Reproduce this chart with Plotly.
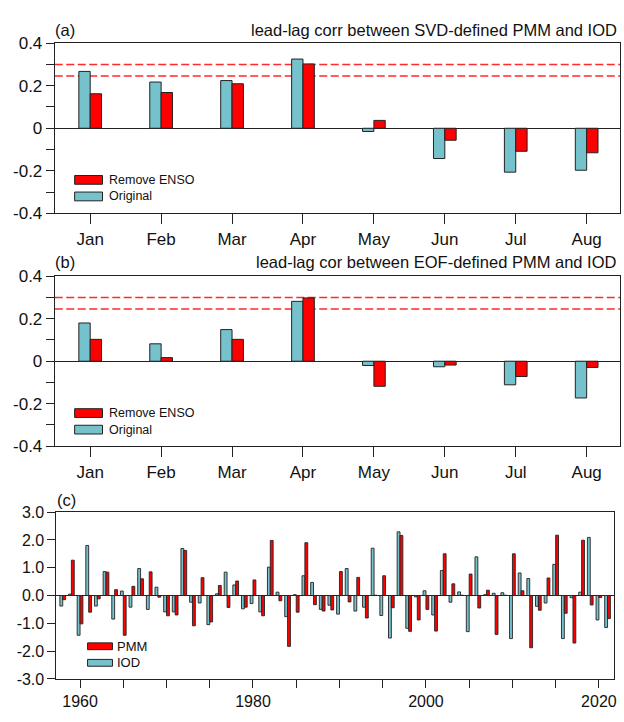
import plotly.graph_objects as go

# ---------------- data ----------------
months = ["Jan", "Feb", "Mar", "Apr", "May", "Jun", "Jul", "Aug"]

# panel (a): SVD-defined PMM vs IOD
svd_original = [0.267, 0.217, 0.224, 0.325, -0.015, -0.142, -0.206, -0.197]
svd_remove_enso = [0.162, 0.168, 0.209, 0.302, 0.037, -0.056, -0.108, -0.115]

# panel (b): EOF-defined PMM vs IOD
eof_original = [0.180, 0.082, 0.149, 0.282, -0.020, -0.026, -0.111, -0.173]
eof_remove_enso = [0.103, 0.017, 0.103, 0.298, -0.118, -0.018, -0.072, -0.029]

# significance levels
sig_levels = [0.3, 0.246]

# panel (c): time series
years = list(range(1958, 2022))
pmm = [-0.15, 1.27, -1.02, -0.60, -0.12, 0.84, 0.21, -1.43, 0.33, 0.60,
       0.85, -0.06, -0.73, -0.70, 1.62, -1.09, 0.64, -0.95, 0.36, -0.43,
       0.52, -0.42, 0.56, -0.73, 1.98, -0.19, -1.83, -0.60, 1.90, -0.33,
       -0.56, -0.52, 0.86, -0.23, 0.65, -0.81, 0.01, 0.71, -0.44, 2.16,
       -1.29, -0.88, -0.50, -1.28, 1.50, 0.42, 0.01, 0.77, -0.45, 0.19,
       -1.40, 0.01, 1.50, 0.17, -1.88, -0.53, 0.63, 2.17, -0.64, -1.71,
       1.99, -0.34, -0.07, -0.83]
iod = [-0.38, 0.05, -1.43, 1.80, -0.38, 0.86, -0.85, 0.16, -0.42, 0.97,
       -0.50, 0.30, -0.59, -0.59, 1.69, -0.24, -0.27, -1.05, 0.06, 0.84,
       0.38, -0.48, -0.29, -0.59, 1.02, 0.12, -0.76, 0.03, 0.71, 0.47,
       -0.50, -0.35, -0.67, 0.97, -0.56, -0.42, 1.70, -0.72, -1.53, 2.29,
       -1.18, -0.05, 0.17, -0.70, 0.90, -0.24, 0.13, -1.30, 1.39, 0.03,
       0.08, 0.10, -1.55, 0.81, 0.61, -0.39, -0.27, 1.12, -1.55, -0.08,
       0.12, 2.09, -0.88, -1.15]

ab_yticks = [-0.4, -0.2, 0, 0.2, 0.4]
ab_yticktext = ["-0.4", "-0.2", "0", "0.2", "0.4"]
c_yticks = [-3, -2, -1, 0, 1, 2, 3]
c_yticktext = ["-3.0", "-2.0", "-1.0", "0.0", "1.0", "2.0", "3.0"]
c_xticks = list(range(1960, 2021, 5))
c_xticktext = [str(v) if v % 20 == 0 else "" for v in c_xticks]

# ---------------- style ----------------
W, H = 624, 722
RED = "#ff0000"
CYAN = "#76c2cc"
EDGE = "#222222"
FONT = "Liberation Sans, Arial, Helvetica, sans-serif"


def px(x):
    return x / W


def py(y):
    return 1 - y / H


fig = go.Figure()

# panel (a)
fig.add_trace(go.Bar(x=list(range(1, 9)), y=svd_original, width=0.16, offset=-0.16,
                     marker=dict(color=CYAN, line=dict(color=EDGE, width=1)),
                     xaxis="x", yaxis="y", showlegend=False))
fig.add_trace(go.Bar(x=list(range(1, 9)), y=svd_remove_enso, width=0.16, offset=0,
                     marker=dict(color=RED, line=dict(color=EDGE, width=1)),
                     xaxis="x", yaxis="y", showlegend=False))
# panel (b)
fig.add_trace(go.Bar(x=list(range(1, 9)), y=eof_original, width=0.16, offset=-0.16,
                     marker=dict(color=CYAN, line=dict(color=EDGE, width=1)),
                     xaxis="x2", yaxis="y2", showlegend=False))
fig.add_trace(go.Bar(x=list(range(1, 9)), y=eof_remove_enso, width=0.16, offset=0,
                     marker=dict(color=RED, line=dict(color=EDGE, width=1)),
                     xaxis="x2", yaxis="y2", showlegend=False))
# panel (c)
fig.add_trace(go.Bar(x=years, y=iod, width=0.33, offset=-0.33,
                     marker=dict(color=CYAN, line=dict(color=EDGE, width=0.9)),
                     xaxis="x3", yaxis="y3", showlegend=False))
fig.add_trace(go.Bar(x=years, y=pmm, width=0.33, offset=0,
                     marker=dict(color=RED, line=dict(color=EDGE, width=0.9)),
                     xaxis="x3", yaxis="y3", showlegend=False))

common_axis = dict(showline=True, linecolor="#222", linewidth=1, mirror=True,
                   ticks="outside", tickcolor="#222", tickwidth=1, ticklen=8,
                   showgrid=False, zeroline=False, fixedrange=True)

ab_x = dict(common_axis, range=[0.5, 8.47], tickvals=list(range(1, 9)), ticktext=months,
            ticklen=10, tickfont=dict(size=17, color="#111", family=FONT))
ab_y = dict(common_axis, range=[-0.4, 0.4], tickvals=ab_yticks, ticktext=ab_yticktext,
            zeroline=True, zerolinecolor="#222", zerolinewidth=1,
            minor=dict(tickvals=[-0.3, -0.1, 0.1, 0.3], ticks="outside", ticklen=8,
                       tickcolor="#222", tickwidth=1),
            tickfont=dict(size=17, color="#111", family=FONT))

fig.update_layout(
    width=W, height=H,
    margin=dict(l=0, r=0, t=0, b=0),
    paper_bgcolor="white", plot_bgcolor="white",
    font=dict(family=FONT, color="#111"),
    barmode="overlay",
    xaxis=dict(ab_x, domain=[px(55), px(623)], anchor="y"),
    yaxis=dict(ab_y, domain=[py(210), py(35)], anchor="x"),
    xaxis2=dict(ab_x, domain=[px(55), px(623)], anchor="y2"),
    yaxis2=dict(ab_y, domain=[py(449), py(274.5)], anchor="x2"),
    xaxis3=dict(common_axis, range=[1957.27, 2021.75], tickvals=c_xticks, ticktext=c_xticktext,
                domain=[px(56.7), px(617)], anchor="y3",
                tickfont=dict(size=16, color="#111", family=FONT)),
    yaxis3=dict(common_axis, range=[-3, 3], tickvals=c_yticks, ticktext=c_yticktext,
                domain=[py(688), py(516.7)], anchor="x3",
                zeroline=True, zerolinecolor="#222", zerolinewidth=1,
                tickfont=dict(size=16, color="#111", family=FONT)),
)

shapes = []
# significance dashed lines
for yref, xref in (("y", "x"), ("y2", "x2")):
    for lv in sig_levels:
        shapes.append(dict(type="line", xref=f"{xref} domain", yref=yref, x0=0, x1=1,
                           y0=lv, y1=lv, layer="below",
                           line=dict(color="#ff2a2a", width=1.5, dash="8px,3.5px")))


def legend_box(x0, y0, x1, y1, color):
    shapes.append(dict(type="rect", xref="paper", yref="paper",
                       x0=px(x0), x1=px(x1), y0=py(y1), y1=py(y0),
                       fillcolor=color, line=dict(color=EDGE, width=1)))


annotations = []


def text(x, y, s, size, anchor="left"):
    annotations.append(dict(xref="paper", yref="paper", x=px(x), y=py(y), text=s,
                            showarrow=False, xanchor=anchor, yanchor="middle",
                            font=dict(size=size, color="#111", family=FONT)))


# panel legends (a), (b)
for off in (0, 239.5):
    legend_box(75, 171 + off, 103, 180 + off, RED)
    legend_box(75, 188 + off, 103, 197 + off, CYAN)
    text(108, 175.5 + off, "Remove ENSO", 12.5)
    text(108, 192.5 + off, "Original", 12.5)

# panel legend (c)
legend_box(88, 651, 113, 658, RED)
legend_box(88, 668, 113, 675, CYAN)
text(116, 654.5, "PMM", 13)
text(116, 671.5, "IOD", 13)

# titles
text(53, 21.7, "(a)", 16.5)
text(622, 21.7, "lead-lag corr between SVD-defined PMM and IOD", 16.5, "right")
text(53, 260, "(b)", 16.5)
text(622, 260, "lead-lag cor between EOF-defined PMM and IOD", 16.5, "right")
text(55, 504, "(c)", 16.5)

fig.update_layout(shapes=shapes, annotations=annotations)

fig.write_html("out.html",
               config={"displayModeBar": False, "staticPlot": True},
               post_script="document.body.style.margin='0px';document.body.style.overflow='hidden';")
